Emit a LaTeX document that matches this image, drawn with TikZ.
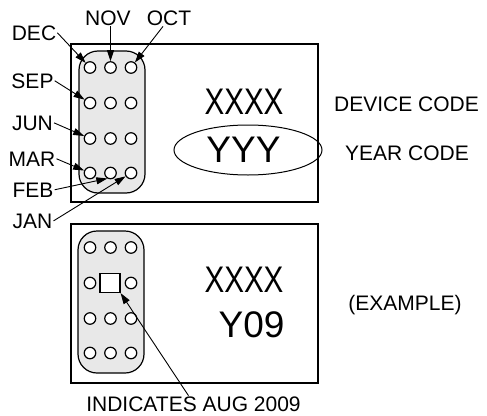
\documentclass[tikz,border=0pt]{standalone}
\usepackage{fontspec}
\setmainfont{Liberation Sans}
\usetikzlibrary{arrows.meta, shapes.geometric}

\begin{document}
\begin{tikzpicture}[x=1pt, y=-1pt,
    lbl/.style={inner sep=1pt, anchor=base, font=\fontsize{21}{24}\selectfont},
    big/.style={inner sep=0pt, anchor=base, font=\fontsize{37}{40}\selectfont},
    hole/.style={draw, circle, fill=white, line width=1.2pt, minimum size=11.5pt, inner sep=0pt},
    arr/.style={-{Triangle[length=11pt, width=7pt]}, line width=0.9pt},
    panel/.style={draw, line width=1.3pt},
    strip/.style={draw, fill=black!9, line width=1.2pt, rounded corners=19pt}]
  \useasboundingbox (0,0) rectangle (487,415);

  % the two marking panels
  \draw[panel] (71,44) rectangle (318,202);
  \draw[panel] (71,224) rectangle (318,383);
  \draw[strip] (79,51) rectangle (145,193);
  \draw[strip] (78,231) rectangle (144,373);

  % holes of the date strip
  \foreach \r/\y in {1/67.5, 2/103, 3/138.5, 4/173}
    \foreach \c/\x in {1/90, 2/110.5, 3/131} {
      \node[hole] (t-\r-\c) at (\x,\y) {};
      \ifnum\r\c=22 \else
        \node[hole] (b-\r-\c) at (\x,\y+180) {};
      \fi
    }
  \node[draw, fill=white, line width=1.2pt, minimum width=20pt, minimum height=19pt, inner sep=0pt] (sq) at (110,283) {};

  % codes
  \node[big] (dc) at (244,114) {\scalebox{0.8}[1]{XXXX}};
  \node[big] (yy) at (243.5,162) {YYY};
  \node[draw, ellipse, line width=1pt, minimum width=148pt, minimum height=50pt, inner sep=0pt] (yc) at (248,150) {};
  \node[big] (dc2) at (244,292) {\scalebox{0.8}[1]{XXXX}};
  \node[big] (yy2) at (251.5,337) {Y09};

  % labels
  \node[lbl] (nov) at (108,25) {NOV};
  \node[lbl] (oct) at (169,25) {OCT};
  \node[lbl] (dec) at (34,40) {DEC};
  \node[lbl] (sep) at (32.5,88) {SEP};
  \node[lbl] (jun) at (32.5,130) {JUN};
  \node[lbl] (mar) at (32,166) {MAR};
  \node[lbl] (feb) at (33,197) {FEB};
  \node[lbl] (jan) at (32.5,228) {JAN};
  \node[lbl] (dev) at (406.5,111) {DEVICE CODE};
  \node[lbl] (yr) at (407,160) {YEAR CODE};
  \node[lbl] (ex) at (405,310) {(EXAMPLE)};
  \node[lbl] (ind) at (193.5,411.5) {INDICATES AUG 2009};

  \draw[arr] (dec.east) -- (t-1-1);
  \draw[arr] (t-1-2 |- nov.south) -- (t-1-2);
  \draw[arr] ([xshift=-6pt]oct.south) -- (t-1-3);
  \draw[arr] (sep.east) -- (t-2-1);
  \draw[arr] (jun.east) -- (t-3-1);
  \draw[arr] (mar.east) -- (t-4-1);
  \draw[arr] (feb.east) -- (t-4-2.-120);
  \draw[arr] (jan.east) -- (t-4-3);
  \draw[arr] ([xshift=-5pt]ind.north) -- (sq.south east);
\end{tikzpicture}
\end{document}
